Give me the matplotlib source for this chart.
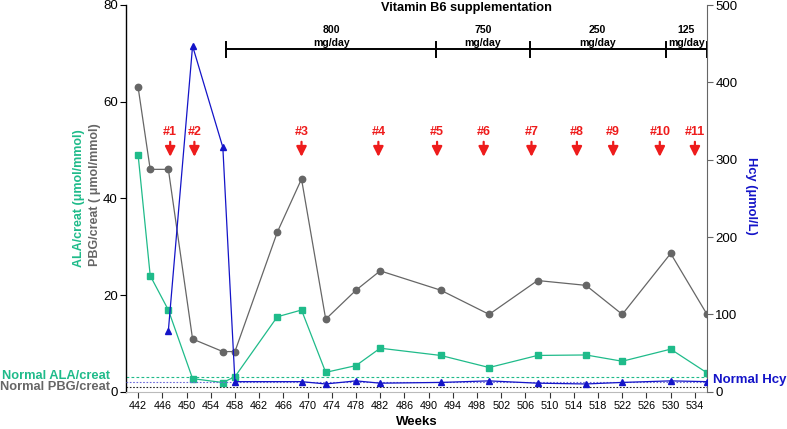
import matplotlib

matplotlib.use("Agg")

import matplotlib.pyplot as plt

plt.rcParams.update(
    {
        "font.family": ["Liberation Sans", "DejaVu Sans"],
        "font.size": 9,
    }
)

GREEN = "#1fbb8a"
GRAY = "#666666"
BLUE = "#1414c8"
RED = "#ee1c1c"

weeks = [442, 444, 447, 451, 456, 458, 465, 469, 473, 478, 482, 492, 500, 508, 516, 522, 530, 536]
pbg = [63, 46, 46, 10.9, 8.3, 8.3, 33, 44, 15, 21, 25, 21, 16, 23, 22, 16, 28.6, 16]
ala = [49, 24, 16.9, 2.7, 1.9, 3.1, 15.5, 16.9, 4.0, 5.4, 9.0, 7.5, 5.0, 7.5, 7.6, 6.3, 8.8, 3.9]

hcy_weeks = [447, 451, 456, 458, 469, 473, 478, 482, 492, 500, 508, 516, 522, 530, 536]
hcy = [79, 447, 316, 13, 13, 10, 14, 11, 12, 14, 11, 10, 12, 14, 13]

normal_ala = 3.0
normal_pbg = 1.0
normal_hcy = 12.5

arrow_weeks = [447.3, 451.3, 469, 481.7, 491.4, 499.1, 507, 514.5, 520.5, 528.2, 534]
arrow_labels = ["#1", "#2", "#3", "#4", "#5", "#6", "#7", "#8", "#9", "#10", "#11"]

dose_bounds = [456.5, 491.3, 506.7, 529.2, 536]
dose_labels = ["800", "750", "250", "125"]

W, H = 787, 429
fig = plt.figure(figsize=(W / 100, H / 100), dpi=100)
ax = fig.add_axes([126 / W, 1 - 391.7 / H, (707 - 126) / W, (391.7 - 5) / H])
ax2 = ax.twinx()

# left axis: ALA / PBG
ax.plot(weeks, pbg, color=GRAY, lw=0.9, marker="o", ms=4.6, zorder=3)
ax.plot(weeks, ala, color=GREEN, lw=0.9, marker="s", ms=4.6, zorder=4)
ax.axhline(normal_ala, color=GREEN, lw=0.8, ls=(0, (2.5, 2)), zorder=1)
ax.axhline(normal_pbg, color="#222222", lw=0.8, ls=(0, (1.5, 1.5)), zorder=1)

ax.set_xlim(440, 536)
ax.set_ylim(0, 80)
ax.set_xticks(range(442, 535, 4))
ax.set_yticks([0, 20, 40, 60, 80])
ax.tick_params(axis="x", labelsize=7.8, length=4, width=0.8, color="#333333", pad=3)
ax.tick_params(axis="y", labelsize=9.5, length=4, width=0.8, pad=2)
ax.spines["top"].set_visible(False)
ax.spines["right"].set_visible(False)
ax.spines["bottom"].set_color("#bbbbbb")
ax.spines["left"].set_linewidth(1.0)

# right axis: Hcy
ax2.plot(hcy_weeks, hcy, color=BLUE, lw=0.9, marker="^", ms=4.6, zorder=5)
ax2.axhline(normal_hcy, color="#6a6ad8", lw=0.8, ls=(0, (1.5, 1.5)), zorder=1)
ax2.set_ylim(0, 500)
ax2.set_yticks([0, 100, 200, 300, 400, 500])
ax2.tick_params(axis="y", labelsize=9.5, length=4, width=0.8, color=GRAY, pad=2)
ax2.spines["top"].set_visible(False)
ax2.spines["left"].set_visible(False)
ax2.spines["bottom"].set_visible(False)
ax2.spines["right"].set_color(GRAY)
ax2.set_xlim(440, 536)

# treatment arrows
for wk, lab in zip(arrow_weeks, arrow_labels):
    ax.annotate(
        lab,
        xy=(wk, 48.6),
        xytext=(wk, 53.8),
        ha="center",
        va="center",
        color=RED,
        fontsize=9,
        fontweight="bold",
        annotation_clip=False,
        arrowprops=dict(
            arrowstyle="-|>,head_width=0.3,head_length=0.6",
            color=RED,
            lw=1.6,
            shrinkA=1,
            shrinkB=0,
            mutation_scale=10,
        ),
    )

# vitamin B6 dosing bar
bar_y = 70.8
ax.plot([dose_bounds[0], dose_bounds[-1]], [bar_y, bar_y], color="black", lw=1.4, clip_on=False)
for b in dose_bounds:
    ax.plot([b, b], [bar_y - 1.5, bar_y + 1.5], color="black", lw=1.4, clip_on=False)
for lo, hi, lab in zip(dose_bounds[:-1], dose_bounds[1:], dose_labels):
    mid = (lo + hi) / 2
    ax.text(mid, 74.9, lab, ha="center", va="center", fontsize=7.6, fontweight="bold")
    ax.text(mid, 72.2, "mg/day", ha="center", va="center", fontsize=7.6, fontweight="bold")
ax.text(496.2, 79.4, "Vitamin B6 supplementation", ha="center", va="center",
        fontsize=9.2, fontweight="bold", clip_on=False)

# axis labels
fig.text(79 / W, 1 - 198 / H, "ALA/creat (μmol/mmol)", rotation=90, ha="center", va="center",
         color=GREEN, fontsize=9, fontweight="bold")
fig.text(95 / W, 1 - 195 / H, "PBG/creat ( μmol/mmol)", rotation=90, ha="center", va="center",
         color=GRAY, fontsize=9, fontweight="bold")
fig.text(751 / W, 1 - 196 / H, "Hcy (μmol/L)", rotation=-90, ha="center", va="center",
         color=BLUE, fontsize=9.3, fontweight="bold")
fig.text(417 / W, 1 - 422 / H, "Weeks", ha="center", va="center", fontsize=9.5, fontweight="bold")

fig.text(110 / W, 1 - 376 / H, "Normal ALA/creat", ha="right", va="center",
         color=GREEN, fontsize=9.3, fontweight="bold")
fig.text(110 / W, 1 - 386.5 / H, "Normal PBG/creat", ha="right", va="center",
         color=GRAY, fontsize=9.3, fontweight="bold")
fig.text(713 / W, 1 - 380 / H, "Normal Hcy", ha="left", va="center",
         color=BLUE, fontsize=9.5, fontweight="bold")

fig.savefig("out.png", dpi=100)
